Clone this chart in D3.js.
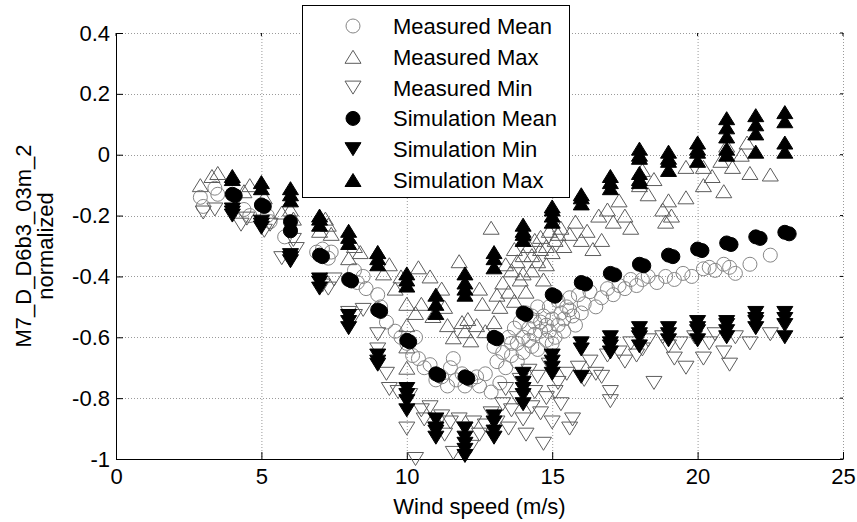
<!DOCTYPE html>
<html>
<head>
<meta charset="utf-8">
<script src="https://cdn.jsdelivr.net/npm/d3@7"></script>
<style>
body { margin: 0; background: #fff; }
svg { display: block; font-family: "Liberation Sans", Arial, sans-serif; }
</style>
</head>
<body>
<svg id="container"></svg>
<script>
// wind speed ticks / normalized value ticks
const xTicks = [0, 5, 10, 15, 20, 25]
const yTicks = [-1, -0.8, -0.6, -0.4, -0.2, 0, 0.2, 0.4]

// measured (open markers) [wind speed, value]
const measuredMean = [
	[2.9, -0.14], [3.0, -0.17], [3.4, -0.11], [3.5, -0.13], [4.4, -0.18], [4.6, -0.2], [5.2, -0.2], [5.3, -0.22],
	[5.8, -0.27], [6.0, -0.25], [6.9, -0.32], [7.1, -0.31], [7.3, -0.34], [7.4, -0.32], [8.2, -0.38], [8.3, -0.42],
	[8.5, -0.4], [8.6, -0.44], [9.0, -0.46], [9.1, -0.5], [9.3, -0.55], [9.6, -0.58], [9.8, -0.6], [10.0, -0.62],
	[10.2, -0.66], [10.3, -0.6], [10.4, -0.67], [10.6, -0.7], [10.8, -0.69], [11.0, -0.74], [11.2, -0.73], [11.4, -0.76],
	[11.5, -0.7], [11.6, -0.67], [11.7, -0.74], [11.9, -0.72], [12.0, -0.76], [12.2, -0.74], [12.4, -0.73], [12.5, -0.76],
	[12.7, -0.72], [12.9, -0.78], [13.0, -0.63], [13.1, -0.68], [13.2, -0.75], [13.3, -0.65], [13.4, -0.7], [13.5, -0.6],
	[13.6, -0.66], [13.7, -0.57], [13.8, -0.62], [13.9, -0.55], [14.0, -0.6], [14.1, -0.52], [14.2, -0.57], [14.3, -0.63],
	[14.4, -0.55], [14.5, -0.5], [14.5, -0.64], [14.6, -0.58], [14.7, -0.53], [14.8, -0.56], [14.9, -0.5], [15.0, -0.54],
	[15.0, -0.62], [15.1, -0.6], [15.2, -0.48], [15.3, -0.52], [15.4, -0.58], [15.5, -0.5], [15.6, -0.47], [15.7, -0.53],
	[15.8, -0.56], [15.9, -0.46], [16.0, -0.52], [16.1, -0.49], [16.3, -0.45], [16.5, -0.5], [16.7, -0.47], [16.9, -0.44],
	[17.1, -0.46], [17.3, -0.43], [17.5, -0.44], [17.7, -0.41], [17.9, -0.43], [18.1, -0.41], [18.3, -0.4], [18.6, -0.42],
	[18.9, -0.4], [19.2, -0.41], [19.5, -0.39], [19.8, -0.4], [20.2, -0.375], [20.4, -0.37], [20.6, -0.38], [20.9, -0.36],
	[21.1, -0.37], [21.3, -0.39], [21.8, -0.36], [22.5, -0.33],
	[13.8, -0.68], [14.0, -0.65], [14.2, -0.61], [14.4, -0.59], [14.6, -0.55], [14.8, -0.61], [15.2, -0.56], [15.4, -0.54],
	[15.6, -0.51], [14.3, -0.53], [14.9, -0.58], [13.6, -0.62]
]
const measuredMax = [
	[2.9, -0.1], [3.3, -0.07], [3.5, -0.06], [4.4, -0.12], [4.6, -0.1], [5.1, -0.14], [5.7, -0.19], [6.0, -0.18],
	[6.1, -0.21], [7.0, -0.25], [7.2, -0.21], [7.3, -0.23], [7.4, -0.26], [8.0, -0.34], [8.2, -0.3], [8.4, -0.32],
	[9.0, -0.32], [9.2, -0.39], [9.4, -0.36], [9.6, -0.44], [9.8, -0.4], [10.0, -0.49], [10.0, -0.56], [10.0, -0.63],
	[10.0, -0.7], [10.3, -0.52], [10.4, -0.37], [10.5, -0.49], [10.8, -0.4], [10.9, -0.53], [11.2, -0.44], [11.3, -0.5],
	[11.4, -0.56], [11.6, -0.6], [11.8, -0.35], [11.9, -0.55], [12.0, -0.58], [12.1, -0.54], [12.2, -0.61], [12.4, -0.56],
	[12.5, -0.44], [12.6, -0.49], [12.7, -0.58], [12.9, -0.24], [13.0, -0.55], [13.2, -0.5], [13.3, -0.42], [13.5, -0.45],
	[13.6, -0.38], [13.7, -0.48], [13.8, -0.35], [13.9, -0.41], [14.0, -0.33], [14.1, -0.45], [14.2, -0.3], [14.3, -0.38],
	[14.4, -0.28], [14.5, -0.35], [14.6, -0.27], [14.7, -0.41], [14.8, -0.3], [14.9, -0.25], [15.0, -0.32], [15.1, -0.28],
	[15.3, -0.24], [15.4, -0.3], [15.6, -0.26], [15.8, -0.22], [16.0, -0.28], [16.2, -0.25], [16.4, -0.31], [16.6, -0.2],
	[16.7, -0.28], [16.9, -0.18], [17.1, -0.22], [17.3, -0.15], [17.5, -0.2], [17.7, -0.24], [18.0, -0.1], [18.1, -0.05],
	[18.3, -0.13], [18.5, -0.08], [18.8, -0.18], [18.9, -0.22], [19.0, -0.15], [19.1, -0.2], [19.6, -0.14], [19.6, -0.04],
	[20.2, -0.1], [20.2, -0.04], [20.5, -0.07], [20.8, -0.02], [20.9, -0.12], [21.0, 0.03], [21.2, -0.04], [21.5, 0.0],
	[21.7, 0.04], [21.8, -0.06], [22.5, -0.065],
	[13.4, -0.36], [13.7, -0.31], [14.0, -0.39], [14.3, -0.33], [14.6, -0.31], [14.8, -0.36], [15.2, -0.26], [13.1, -0.46]
]
const measuredMin = [
	[3.0, -0.19], [3.4, -0.18], [4.3, -0.23], [4.5, -0.21], [5.1, -0.25], [5.3, -0.23], [5.7, -0.34], [6.1, -0.28],
	[6.2, -0.31], [7.1, -0.43], [7.3, -0.44], [7.5, -0.41], [8.0, -0.52], [8.2, -0.53], [8.5, -0.51], [9.0, -0.59],
	[9.0, -0.64], [9.3, -0.72], [9.4, -0.77], [9.7, -0.78], [10.0, -0.9], [10.1, -0.79], [10.3, -1.0], [10.5, -0.84],
	[10.6, -0.87], [10.8, -0.83], [11.0, -0.9], [11.2, -0.86], [11.3, -0.92], [11.5, -0.88], [11.6, -0.98], [11.8, -0.87],
	[12.0, -0.9], [12.2, -0.96], [12.3, -0.88], [12.5, -0.92], [12.7, -0.89], [12.9, -0.85], [13.1, -0.88], [13.3, -0.82],
	[13.5, -0.9], [13.6, -0.84], [13.8, -0.8], [14.0, -0.87], [14.1, -0.92], [14.3, -0.83], [14.4, -0.78], [14.6, -0.85],
	[14.7, -0.95], [14.8, -0.8], [15.0, -0.88], [15.2, -0.75], [15.3, -0.82], [15.5, -0.72], [15.6, -0.9], [15.7, -0.87],
	[15.9, -0.7], [16.1, -0.74], [16.3, -0.68], [16.5, -0.72], [16.7, -0.73], [16.9, -0.66], [17.0, -0.81], [17.0, -0.78],
	[17.3, -0.65], [17.5, -0.68], [17.7, -0.62], [17.9, -0.66], [18.1, -0.64], [18.3, -0.61], [18.5, -0.75], [18.8, -0.6],
	[19.0, -0.63], [19.2, -0.67], [19.4, -0.62], [19.6, -0.7], [19.9, -0.6], [20.2, -0.67], [20.4, -0.62], [20.6, -0.59],
	[20.9, -0.65], [21.1, -0.69], [21.3, -0.6], [21.8, -0.62], [22.5, -0.59],
	[13.9, -0.74], [14.2, -0.71], [14.5, -0.73], [14.9, -0.69], [15.1, -0.78], [13.4, -0.77]
]

// simulation (filled markers)
const simMean = [
	[4, -0.13], [4.1, -0.135], [5, -0.165], [5.1, -0.17], [6, -0.22], [6, -0.25], [7, -0.33], [7.1, -0.335],
	[8, -0.41], [8.1, -0.415], [9, -0.51], [9.1, -0.515], [10, -0.61], [10.1, -0.615], [11, -0.72], [11.1, -0.725],
	[12, -0.73], [12.1, -0.735], [13, -0.6], [13.1, -0.605], [14, -0.52], [14.1, -0.525], [15, -0.46], [15.1, -0.465],
	[16, -0.42], [16.15, -0.425], [17, -0.39], [17.15, -0.395], [18, -0.36], [18.15, -0.365], [19, -0.33], [19.15, -0.335],
	[20, -0.31], [20.15, -0.315], [21, -0.29], [21.15, -0.295], [22, -0.27], [22.15, -0.275], [23, -0.255], [23.15, -0.26]
]
const simSpeeds = [4, 5, 6, 7, 8, 9, 10, 11, 12, 13, 14, 15, 16, 17, 18, 19, 20, 21, 22, 23]
const simMin = [
	[-0.18, -0.19, -0.2], [-0.22, -0.23, -0.24], [-0.33, -0.34, -0.35], [-0.41, -0.42, -0.44],
	[-0.53, -0.55, -0.57], [-0.66, -0.68, -0.69], [-0.77, -0.79, -0.81, -0.84], [-0.87, -0.9, -0.91, -0.93],
	[-0.9, -0.93, -0.95, -0.97, -0.99], [-0.86, -0.88, -0.91, -0.93], [-0.72, -0.75, -0.77, -0.79, -0.82], [-0.66, -0.68, -0.7, -0.72],
	[-0.62, -0.64, -0.73], [-0.6, -0.62, -0.63, -0.65], [-0.57, -0.59, -0.6, -0.63], [-0.57, -0.59, -0.61],
	[-0.55, -0.57, -0.58, -0.61], [-0.55, -0.56, -0.58, -0.6], [-0.52, -0.54, -0.55, -0.57], [-0.52, -0.54, -0.56, -0.6]
]
const simMax = [
	[-0.07, -0.08], [-0.09, -0.11], [-0.11, -0.13, -0.15], [-0.2, -0.21, -0.23],
	[-0.25, -0.27, -0.29], [-0.32, -0.34, -0.36], [-0.39, -0.41, -0.43], [-0.46, -0.49, -0.52],
	[-0.39, -0.42, -0.44, -0.46], [-0.32, -0.34, -0.37], [-0.23, -0.25, -0.26, -0.28], [-0.17, -0.18, -0.2, -0.22],
	[-0.13, -0.14, -0.16], [-0.07, -0.09, -0.11], [0.02, 0.0, -0.01, -0.06, -0.08, -0.09], [0.01, -0.01, -0.02, -0.05],
	[0.04, 0.02, 0.01, -0.02], [0.12, 0.09, 0.06, 0.02, 0.0], [0.13, 0.1, 0.07, 0.01], [0.14, 0.11, 0.04, 0.01]
]

const legendLabels = ["Measured Mean", "Measured Max", "Measured Min", "Simulation Mean", "Simulation Min", "Simulation Max"]

const plot = {left: 116, right: 843, top: 33, bottom: 459}
const fontSize = 22

const triangle = (up) => {
	const w = 8, h = 6.5
	return up ? `M0,${-h}L${w},${h}L${-w},${h}Z` : `M0,${h}L${w},${-h}L${-w},${-h}Z`
}

// marker styles in legend order
const styles = [
	{shape: "circle", fill: "none", stroke: "#868686"},
	{shape: "up", fill: "none", stroke: "#5c5c5c"},
	{shape: "down", fill: "none", stroke: "#5c5c5c"},
	{shape: "circle", fill: "#000", stroke: "#000"},
	{shape: "down", fill: "#000", stroke: "#000"},
	{shape: "up", fill: "#000", stroke: "#000"}
]

const drawMarkers = (g, points, style, x, y) => {
	const sel = g.append("g")
	if (style.shape === "circle") {
		sel.selectAll("circle")
		   .data(points)
		   .join("circle")
		   .attr("cx", d => x(d[0]))
		   .attr("cy", d => y(d[1]))
		   .attr("r", 7)
		   .attr("fill", style.fill)
		   .attr("stroke", style.stroke)
		   .attr("stroke-width", 1)
	} else {
		sel.selectAll("path")
		   .data(points)
		   .join("path")
		   .attr("transform", d => `translate(${x(d[0])},${y(d[1])})`)
		   .attr("d", triangle(style.shape === "up"))
		   .attr("fill", style.fill)
		   .attr("stroke", style.stroke)
		   .attr("stroke-width", 1)
	}
}

const columns = (values) => {
	const pts = []
	simSpeeds.forEach((s, i) => {
		for (let v of values[i]) pts.push([s, v])
	})
	return pts
}

const setup = () => {
	const svg = d3.select("#container")
	              .attr("width", 857)
	              .attr("height", 522)

	const x = d3.scaleLinear().domain([0, 25]).range([plot.left, plot.right])
	const y = d3.scaleLinear().domain([-1, 0.4]).range([plot.bottom, plot.top])

	// grid
	const grid = svg.append("g")
	                .attr("stroke", "#9a9a9a")
	                .attr("stroke-width", 1)
	                .attr("stroke-dasharray", "1,2")
	grid.selectAll(".gx")
	    .data(xTicks.slice(1))
	    .join("line")
	    .attr("x1", d => x(d) + 0.5).attr("x2", d => x(d) + 0.5)
	    .attr("y1", plot.top).attr("y2", plot.bottom)
	grid.selectAll(".gy")
	    .data(yTicks.slice(1))
	    .join("line")
	    .attr("y1", d => Math.round(y(d)) + 0.5).attr("y2", d => Math.round(y(d)) + 0.5)
	    .attr("x1", plot.left).attr("x2", plot.right)

	// axes
	const xAxis = d3.axisBottom(x).tickValues(xTicks).tickSizeInner(-7).tickSizeOuter(0).tickPadding(9)
	const yAxis = d3.axisLeft(y).tickValues(yTicks).tickSizeInner(-7).tickSizeOuter(0).tickPadding(6)
	                .tickFormat(d => d3.format("~g")(d).replace("−", "-"))

	const gx = svg.append("g").attr("transform", `translate(0,${plot.bottom})`).call(xAxis)
	const gy = svg.append("g").attr("transform", `translate(${plot.left},0)`).call(yAxis)
	for (let g of [gx, gy]) {
		g.select(".domain").attr("stroke", "#000")
		g.selectAll(".tick line").attr("stroke", "#000")
		g.selectAll("text").attr("fill", "#000").attr("font-size", fontSize).attr("font-family", null)
	}
	gx.selectAll("text").attr("dy", "0.71em")

	// small ticks on top and right edges
	svg.append("g").selectAll("line")
	   .data(xTicks)
	   .join("line")
	   .attr("x1", d => x(d)).attr("x2", d => x(d))
	   .attr("y1", plot.top).attr("y2", plot.top + 3)
	   .attr("stroke", "#000")
	svg.append("g").selectAll("line")
	   .data(yTicks)
	   .join("line")
	   .attr("y1", d => y(d)).attr("y2", d => y(d))
	   .attr("x1", plot.right - 3).attr("x2", plot.right)
	   .attr("stroke", "#000")

	// data
	const marks = svg.append("g")
	drawMarkers(marks, measuredMean, styles[0], x, y)
	drawMarkers(marks, measuredMax, styles[1], x, y)
	drawMarkers(marks, measuredMin, styles[2], x, y)
	drawMarkers(marks, simMean, styles[3], x, y)
	drawMarkers(marks, columns(simMin), styles[4], x, y)
	drawMarkers(marks, columns(simMax), styles[5], x, y)

	// axis labels
	svg.append("text")
	   .attr("x", (plot.left + plot.right) / 2)
	   .attr("y", 514)
	   .attr("text-anchor", "middle")
	   .attr("font-size", fontSize)
	   .text("Wind speed (m/s)")
	const yl = svg.append("text")
	              .attr("transform", `translate(31,${(plot.top + plot.bottom) / 2}) rotate(-90)`)
	              .attr("text-anchor", "middle")
	              .attr("font-size", fontSize)
	yl.append("tspan").attr("x", 0).attr("y", 0).text("M7_D_D6b3_03m_2")
	yl.append("tspan").attr("x", 0).attr("y", 22).text("normalized")

	// legend
	const lg = svg.append("g")
	lg.append("rect")
	  .attr("x", 302.5).attr("y", 5.5)
	  .attr("width", 267).attr("height", 192)
	  .attr("fill", "#fff")
	  .attr("stroke", "#000")
	legendLabels.forEach((label, i) => {
		const ly = 26 + i * 30.8
		const st = styles[i]
		if (st.shape === "circle") {
			lg.append("circle")
			  .attr("cx", 353).attr("cy", ly).attr("r", 7)
			  .attr("fill", st.fill).attr("stroke", st.stroke)
		} else {
			lg.append("path")
			  .attr("transform", `translate(353,${ly})`)
			  .attr("d", triangle(st.shape === "up"))
			  .attr("fill", st.fill).attr("stroke", st.stroke)
		}
		lg.append("text")
		  .attr("x", 393).attr("y", ly)
		  .attr("dy", "0.36em")
		  .attr("font-size", fontSize)
		  .text(label)
	})
}

document.addEventListener("DOMContentLoaded", setup)
</script>
</body>
</html>
